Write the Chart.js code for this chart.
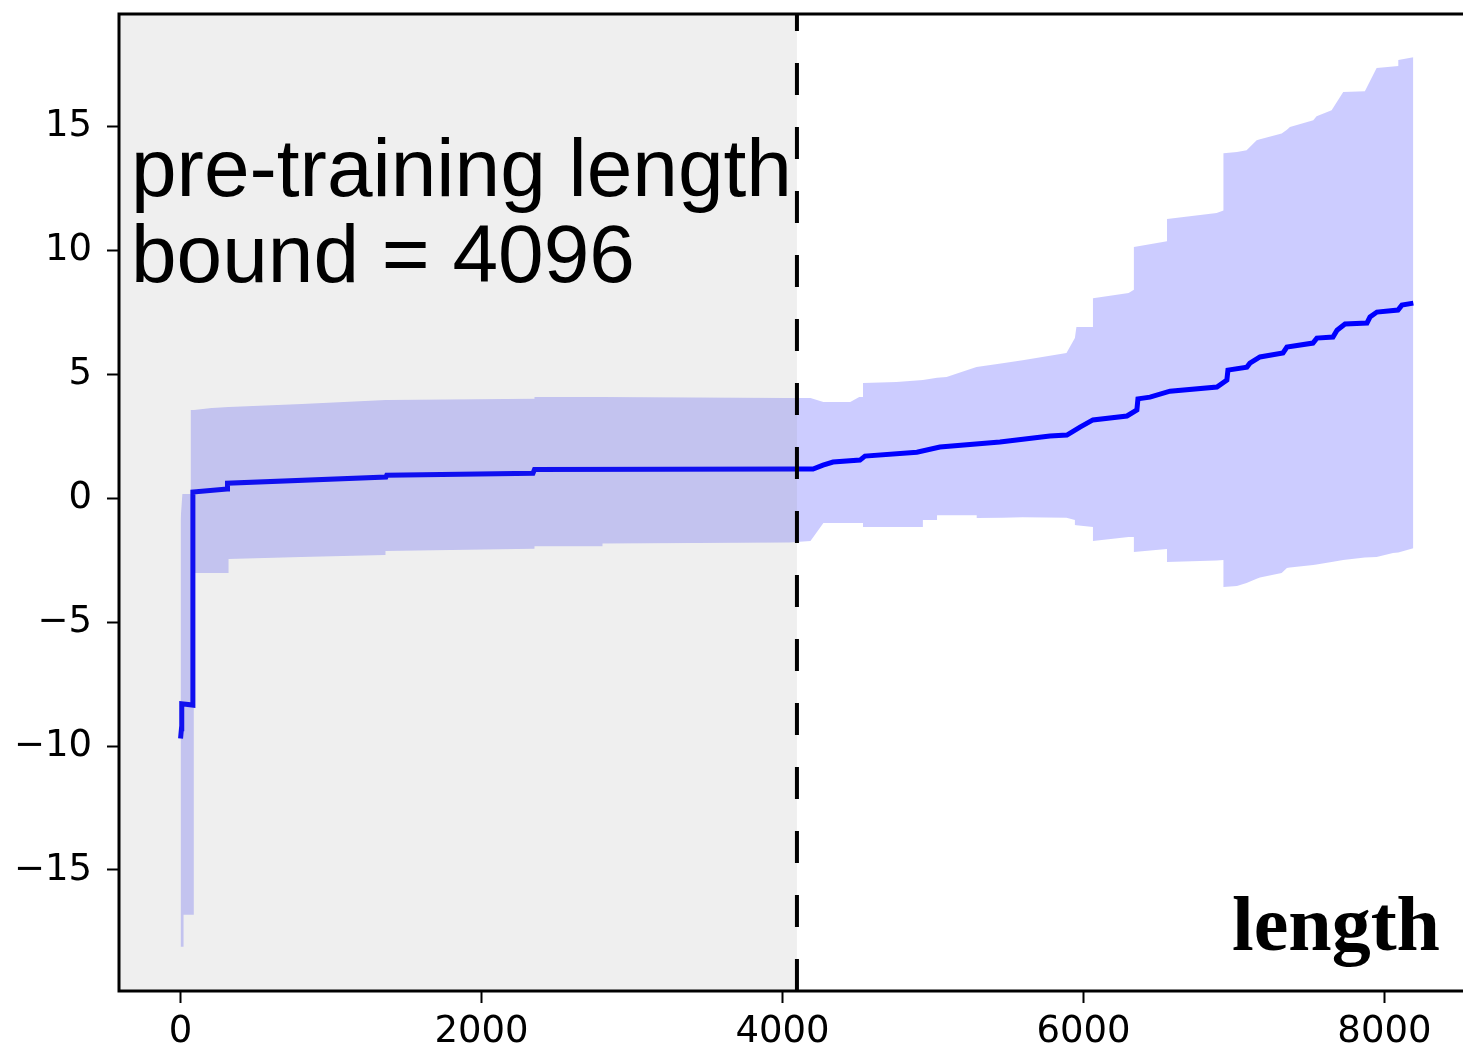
<!DOCTYPE html>
<html>
<head>
<meta charset="utf-8">
<script src="https://cdn.jsdelivr.net/npm/chart.js@4"></script>
<style>
  html, body { margin: 0; padding: 0; background: #fff; overflow: hidden; }
  #wrap { position: relative; width: 1470px; height: 1046px; }
</style>
</head>
<body>
<div id="wrap"><canvas id="c" width="1470" height="1046"></canvas></div>
<script>
// ---- data ----
const pretrainBound = 4096;
const boundLabel = ['pre-training length', 'bound = 4096'];
const axisName = 'length';

const xTicks = [0, 2000, 4000, 6000, 8000];
const yTicks = [-15, -10, -5, 0, 5, 10, 15];

// mean curve
const meanX = [0, 6, 8, 8, 82, 82, 309, 312, 1365, 1370, 2342, 2352, 4096, 4203, 4269, 4336, 4515, 4548,
  4893, 5046, 5445, 5777, 5890, 5977, 6063, 6289, 6355, 6362, 6442, 6575, 6887, 6953, 6960, 7086, 7106,
  7173, 7326, 7352, 7525, 7551, 7658, 7685, 7738, 7884, 7904, 7950, 8090, 8116, 8192];
const meanY = [-9.7, -9.3, -9.25, -8.3, -8.35, 0.24, 0.36, 0.6, 0.85, 0.92, 1.0, 1.15, 1.17, 1.17, 1.33, 1.45, 1.53, 1.69,
  1.85, 2.06, 2.26, 2.5, 2.54, 2.86, 3.15, 3.31, 3.55, 4.0, 4.07, 4.31, 4.48, 4.76, 5.16, 5.28, 5.44,
  5.69, 5.85, 6.09, 6.25, 6.45, 6.49, 6.77, 7.02, 7.06, 7.3, 7.5, 7.58, 7.78, 7.86];

// spread band (upper / lower edge)
const bandX = [0, 12, 20, 20, 68, 68, 88, 88, 206, 319, 319, 804, 1362, 1362, 2352, 2352, 2804, 2804,
  4047, 4186, 4272, 4450, 4510, 4535, 4535, 4757, 4933, 4933, 5027, 5027, 5090, 5289, 5292, 5292, 5462,
  5595, 5887, 5943, 5943, 5953, 6063, 6063, 6300, 6335, 6335, 6555, 6555, 6885, 6930, 6930, 7020, 7084,
  7151, 7173, 7317, 7352, 7372, 7527, 7549, 7649, 7726, 7870, 7948, 8057, 8092, 8092, 8192];
const bandUpper = [-0.9, 0.16, 0.16, 0.16, 0.16, 3.55, 3.55, 3.55, 3.63, 3.67, 3.67, 3.79, 3.95, 3.95, 4.0, 4.07, 4.07, 4.07,
  4.03, 4.03, 3.87, 3.87, 4.07, 4.07, 4.64, 4.68, 4.76, 4.76, 4.85, 4.85, 4.88, 5.28, 5.28, 5.28, 5.44,
  5.56, 5.85, 6.45, 6.45, 6.9, 6.9, 8.06, 8.27, 8.4, 10.12, 10.36, 11.25, 11.49, 11.6, 13.9, 13.95, 14.03,
  14.43, 14.47, 14.7, 14.85, 14.96, 15.24, 15.4, 15.64, 16.37, 16.4, 17.34, 17.4, 17.42, 17.66, 17.78];
const bandLower = [-18.1, -18.1, -18.1, -16.8, -16.8, -16.8, -16.8, -3.02, -3.02, -3.02, -2.46, -2.38, -2.3, -2.14, -2.05, -1.94, -1.94, -1.83,
  -1.79, -1.73, -1.01, -1.01, -1.01, -1.01, -1.17, -1.17, -1.17, -0.89, -0.89, -0.69, -0.69, -0.69, -0.69, -0.81, -0.8,
  -0.77, -0.8, -0.89, -1.09, -1.1, -1.17, -1.73, -1.57, -1.57, -2.18, -2.06, -2.58, -2.52, -2.5, -3.59, -3.55, -3.43,
  -3.25, -3.2, -3.02, -2.82, -2.8, -2.7, -2.68, -2.58, -2.5, -2.4, -2.38, -2.22, -2.2, -2.2, -2.02];

const toPoints = (xs, ys) => xs.map((x, i) => ({ x, y: ys[i] }));
const fmt = v => String(v).replace('-', '\u2212');

// shaded pre-training region, bound marker, frame and annotations
const overlay = {
  id: 'overlay',
  afterDatasetsDraw(chart) {
    const { ctx, chartArea: a, scales: { x } } = chart;
    const bx = x.getPixelForValue(pretrainBound);
    ctx.save();
    ctx.fillStyle = 'rgba(128,128,128,0.125)';
    ctx.fillRect(a.left, a.top, bx - a.left, a.bottom - a.top);

    ctx.strokeStyle = '#000';
    ctx.lineWidth = 4;
    ctx.setLineDash([32, 32]);
    ctx.beginPath();
    ctx.moveTo(bx, a.bottom);
    ctx.lineTo(bx, a.top);
    ctx.stroke();
    ctx.setLineDash([]);

    ctx.lineWidth = 3;
    ctx.strokeRect(a.left, a.top, a.right - a.left, a.bottom - a.top);

    ctx.fillStyle = '#000';
    ctx.textAlign = 'left';
    ctx.textBaseline = 'alphabetic';
    ctx.font = '82px "Liberation Sans", Arial, sans-serif';
    ctx.fillText(boundLabel[0], 131, 196);
    ctx.fillText(boundLabel[1], 131, 282);

    ctx.textAlign = 'right';
    ctx.font = 'bold 78px "Liberation Serif", "Times New Roman", serif';
    ctx.fillText(axisName, 1440, 950);
    ctx.restore();
  }
};

const tickFont = { family: '"DejaVu Sans", sans-serif', size: 37 };

new Chart(document.getElementById('c'), {
  type: 'line',
  data: {
    datasets: [
      { data: toPoints(bandX, bandLower), borderWidth: 0, borderColor: 'rgba(0,0,0,0)', pointRadius: 0, fill: false, order: 1 },
      { data: toPoints(bandX, bandUpper), borderWidth: 0, borderColor: 'rgba(0,0,0,0)', pointRadius: 0,
        fill: '-1', backgroundColor: 'rgba(0,0,255,0.2)', order: 1 },
      { data: toPoints(meanX, meanY), borderColor: '#0000ff', borderWidth: 5, pointRadius: 0, fill: false, order: 0,
        borderJoinStyle: 'miter' }
    ]
  },
  options: {
    responsive: false,
    animation: false,
    devicePixelRatio: 1,
    layout: { padding: { top: 14, right: 4, left: 0, bottom: 0 } },
    plugins: { legend: { display: false }, tooltip: { enabled: false } },
    elements: { line: { tension: 0 } },
    scales: {
      x: {
        type: 'linear',
        min: -409,
        max: 8542,
        afterFit: s => { s.height = 55; s.paddingLeft = 0; s.paddingRight = 0; },
        afterBuildTicks: s => { s.ticks = xTicks.map(v => ({ value: v })); },
        grid: { drawOnChartArea: false, drawTicks: true, tickLength: 12, tickWidth: 2, tickColor: '#000' },
        border: { display: false },
        ticks: { callback: v => fmt(v), font: tickFont, color: '#000', padding: 7, maxRotation: 0, autoSkip: false }
      },
      y: {
        type: 'linear',
        min: -19.88,
        max: 19.52,
        afterFit: s => { s.width = 119; s.paddingTop = 0; s.paddingBottom = 0; },
        afterBuildTicks: s => { s.ticks = yTicks.map(v => ({ value: v })); },
        grid: { drawOnChartArea: false, drawTicks: true, tickLength: 12, tickWidth: 2, tickColor: '#000' },
        border: { display: false },
        ticks: { callback: v => fmt(v), font: tickFont, color: '#000', padding: 15, autoSkip: false }
      }
    }
  },
  plugins: [overlay]
});
</script>
</body>
</html>
